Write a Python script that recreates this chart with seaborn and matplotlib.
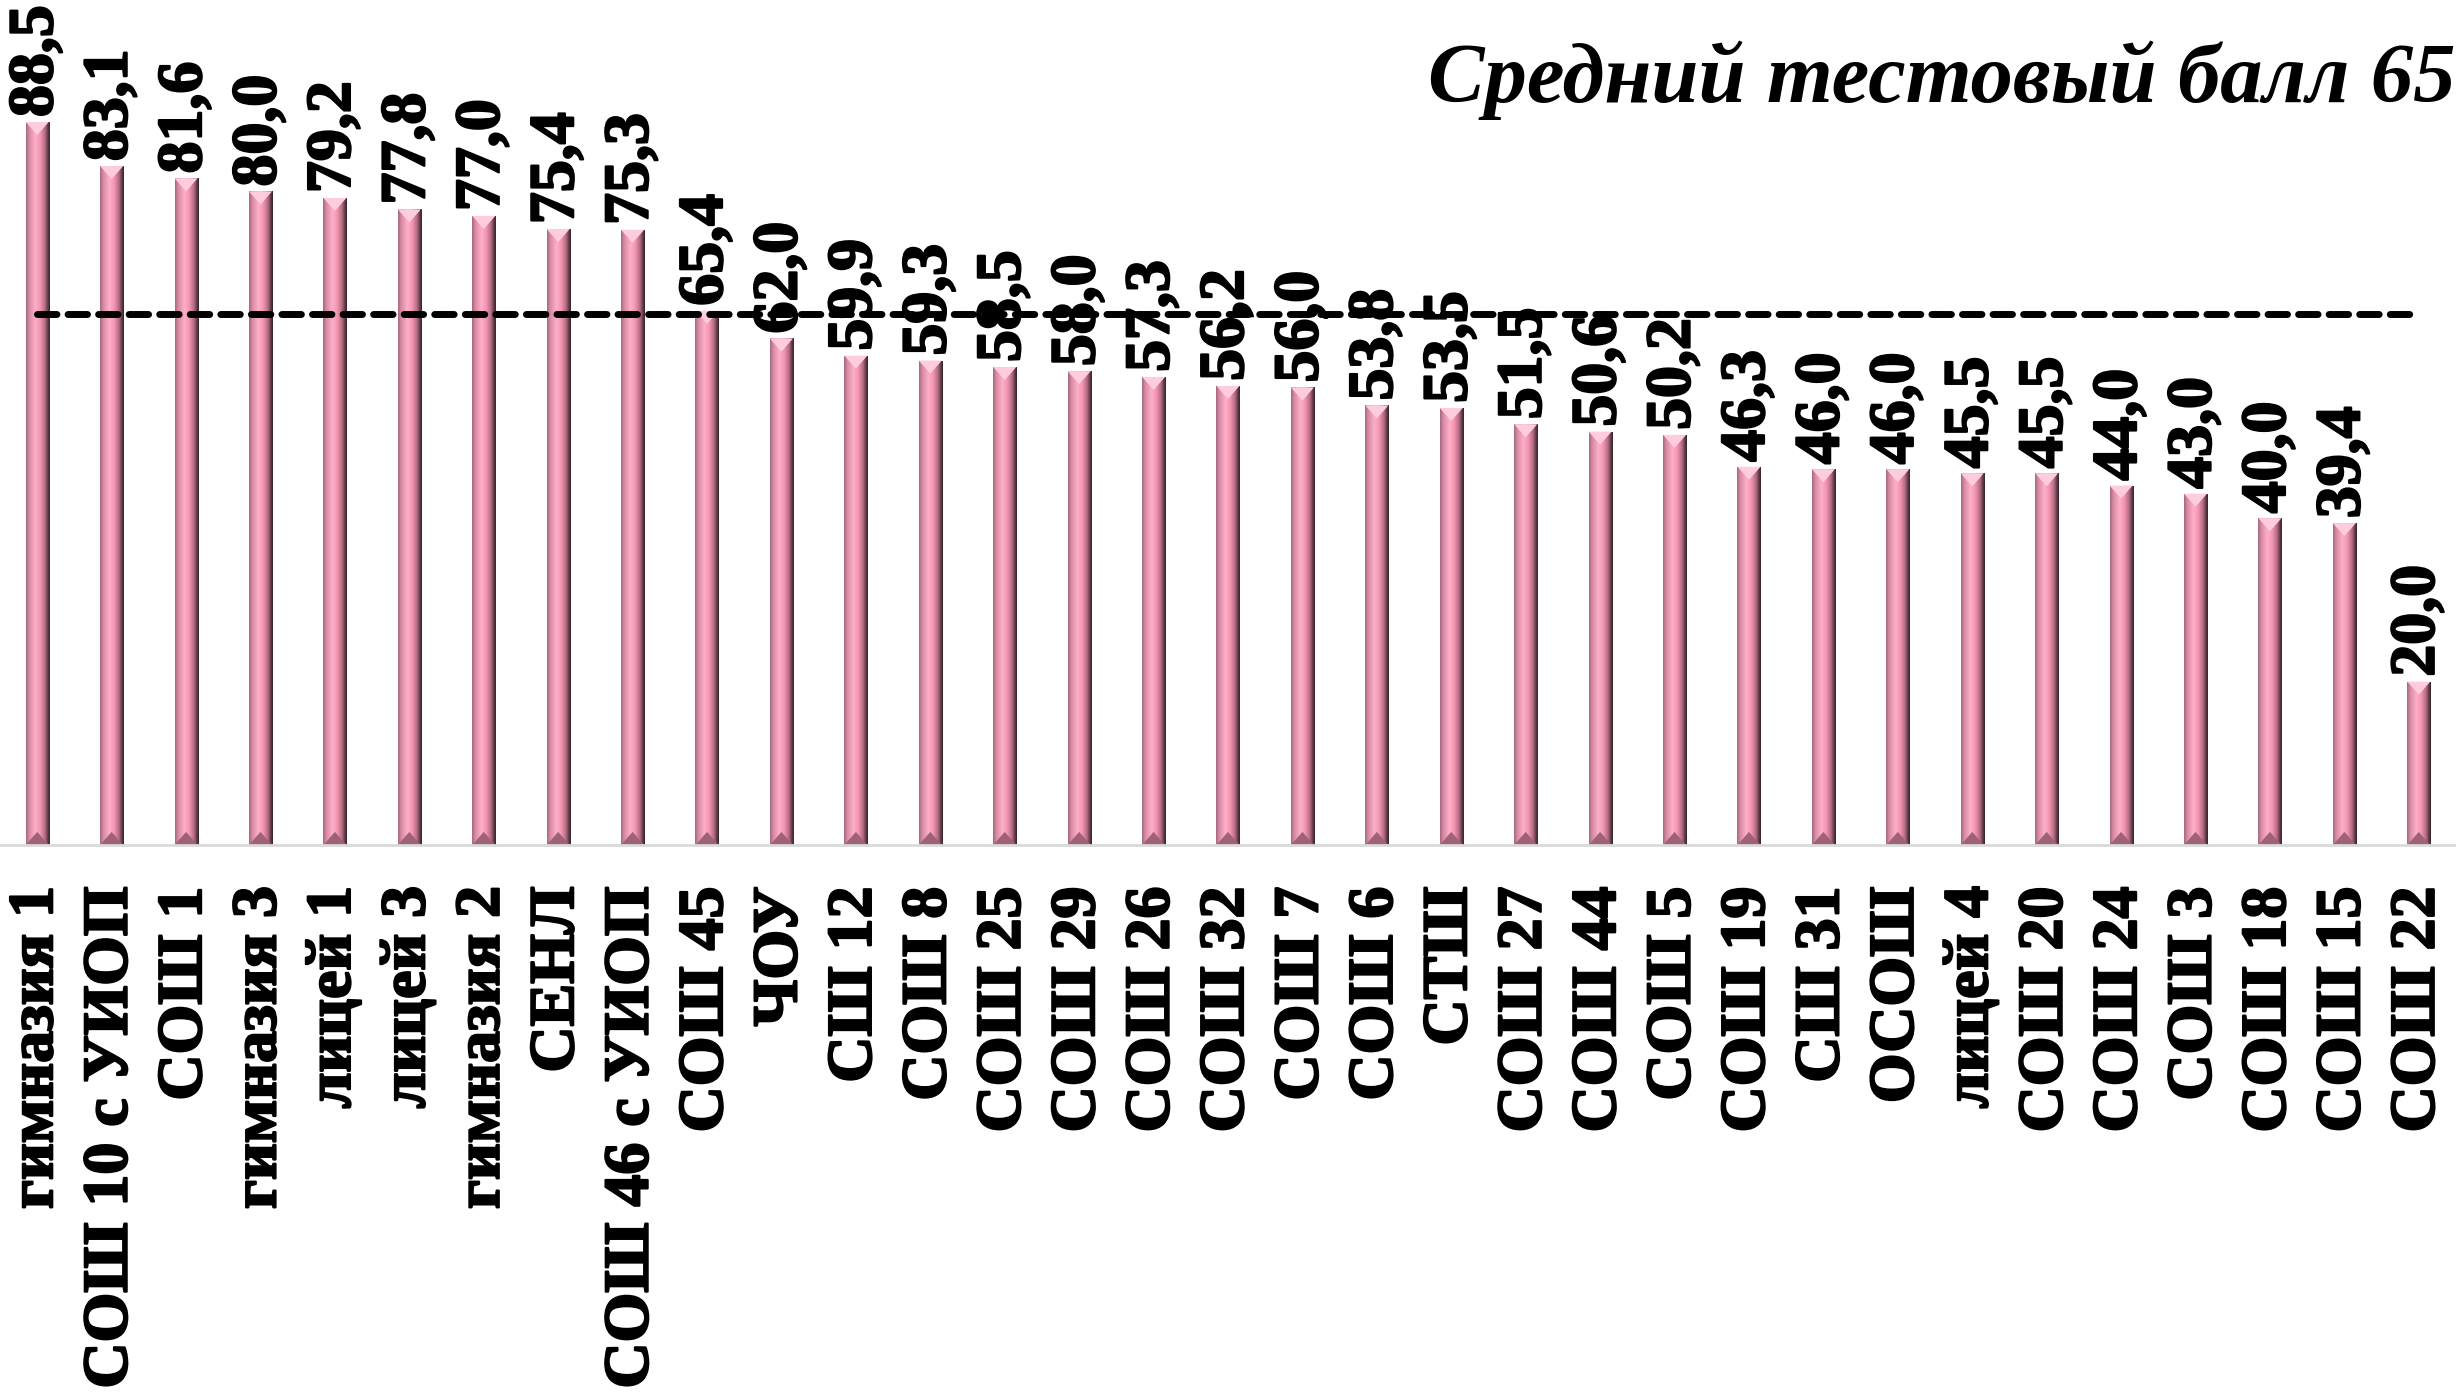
import numpy as np
import pandas as pd
import matplotlib
matplotlib.use("Agg")
import matplotlib.pyplot as plt
from matplotlib.colors import LinearSegmentedColormap
from matplotlib.patches import Polygon
import matplotlib.patheffects as pe
import seaborn as sns

schools = ["гимназия 1", "СОШ 10 с УИОП", "СОШ 1", "гимназия 3", "лицей 1", "лицей 3",
           "гимназия 2", "СЕНЛ", "СОШ 46 с УИОП", "СОШ 45", "ЧОУ", "СШ 12", "СОШ 8",
           "СОШ 25", "СОШ 29", "СОШ 26", "СОШ 32", "СОШ 7", "СОШ 6", "СТШ", "СОШ 27",
           "СОШ 44", "СОШ 5", "СОШ 19", "СШ 31", "ОСОШ", "лицей 4", "СОШ 20", "СОШ 24",
           "СОШ 3", "СОШ 18", "СОШ 15", "СОШ 22"]
scores = [88.5, 83.1, 81.6, 80.0, 79.2, 77.8, 77.0, 75.4, 75.3, 65.4, 62.0, 59.9, 59.3,
          58.5, 58.0, 57.3, 56.2, 56.0, 53.8, 53.5, 51.5, 50.6, 50.2, 46.3, 46.0, 46.0,
          45.5, 45.5, 44.0, 43.0, 40.0, 39.4, 20.0]
mean_score = 65
title_text = "Средний тестовый балл 65"

sns.set_theme(style="white")
plt.rcParams["font.family"] = ["Liberation Serif", "DejaVu Serif"]

df = pd.DataFrame({"school": schools, "score": scores})

fig = plt.figure(figsize=(24.56, 13.97), dpi=100)
ax = fig.add_axes([0.0, 1 - 845 / 1397, 1.0, 817 / 1397])

sns.barplot(data=df, x="school", y="score", color="#f4a6be", width=0.31,
            saturation=1, ax=ax, zorder=2)

# cylinder-like gradient on each bar
cmap = LinearSegmentedColormap.from_list("cyl", [
    (0.00, (0.62, 0.40, 0.48)),
    (0.12, (0.84, 0.53, 0.63)),
    (0.40, (1.00, 0.69, 0.79)),
    (0.60, (0.95, 0.58, 0.69)),
    (0.80, (0.70, 0.42, 0.51)),
    (0.92, (0.36, 0.22, 0.27)),
    (1.00, (0.20, 0.14, 0.16)),
])
grad = np.linspace(0, 1, 256).reshape(1, -1)
ax.set_xlim(-0.5, len(schools) - 0.5)
ax.set_ylim(0, 100)
bars = list(ax.patches)
for p in bars:
    x0, y0 = p.get_x(), p.get_y()
    w, h = p.get_width(), p.get_height()
    im = ax.imshow(grad, cmap=cmap, aspect="auto", extent=[x0, x0 + w, y0, y0 + h],
                   zorder=2.1, interpolation="bicubic")
    im.set_clip_path(p)
    tri = Polygon([[x0, y0 + h], [x0 + w, y0 + h], [x0 + w / 2, y0 + h - 1.6]],
                  closed=True, facecolor=(1.0, 0.80, 0.87), edgecolor="none", zorder=2.2)
    ax.add_patch(tri)
    tri2 = Polygon([[x0, y0], [x0 + w, y0], [x0 + w / 2, y0 + 1.6]],
                   closed=True, facecolor=(0.62, 0.38, 0.46), edgecolor="none", zorder=2.2)
    ax.add_patch(tri2)
ax.set_xlim(-0.5, len(schools) - 0.5)
ax.set_ylim(0, 100)

# mean dashed line
sns.lineplot(x=np.arange(len(schools)), y=[mean_score] * len(schools), ax=ax,
             color="black", lw=5, linestyle=(0, (2.8, 1.6)), zorder=3)
for l in ax.lines:
    l.set_dash_capstyle("round")

stroke = [pe.withStroke(linewidth=1.6, foreground="black")]

# value labels
for p, v in zip(bars, scores):
    ax.text(p.get_x() + p.get_width() / 2, p.get_height() + 0.6,
            f"{v:.1f}".replace(".", ","), rotation=90, ha="center", va="bottom",
            fontsize=46, fontweight="bold", color="black", zorder=4,
            path_effects=stroke)

ax.set_xlabel("")
ax.set_ylabel("")
ax.set_yticks([])
ax.set_xticks(range(len(schools)))
ax.set_xticklabels(schools, rotation=90, fontsize=46, fontweight="bold", color="black")
for t in ax.get_xticklabels():
    t.set_path_effects(stroke)
ax.tick_params(axis="x", length=0, pad=30)
for s in ["top", "left", "right"]:
    ax.spines[s].set_visible(False)
ax.spines["bottom"].set_color("#d9d9d9")
ax.spines["bottom"].set_linewidth(2)
ax.patch.set_alpha(0)

fig.text(1428 / 2456, 1 - 102 / 1397, title_text, fontsize=61, fontweight="bold",
         fontstyle="italic", ha="left", va="baseline", color="black")

fig.savefig("out.png", dpi=100, facecolor="white")
